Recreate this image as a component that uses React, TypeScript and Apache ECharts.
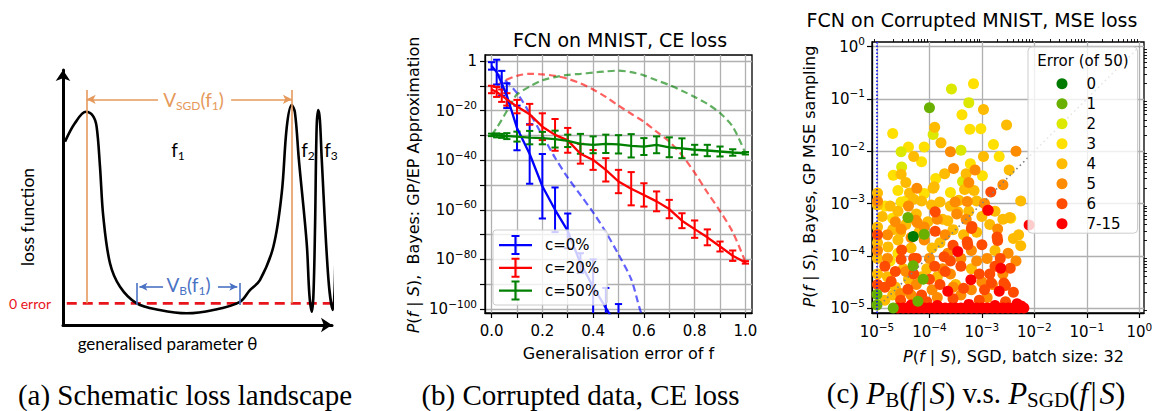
import React, { useEffect, useRef } from "react";
import * as echarts from "echarts";

// ---------------- (a) schematic loss landscape (arbitrary units, 0-100) ----------------
const landscapeTheta = [0.74, 4.46, 8.55, 11.15, 12.5, 13.75, 14.98, 17.47, 21.19, 27.4, 35.9, 46.0, 55.9, 65.8, 69.5, 73.2, 78.2, 81.3, 83.2, 85.0, 86.2, 87.7, 90.6, 91.6, 92.5, 93.1, 93.7, 94.3, 94.9, 95.5, 96.2, 98.6, 100.3, 101.1, 101.5, 102.0];
const landscapeLoss = [71.9, 79.2, 83.6, 82.0, 77.8, 62.1, 42.5, 24.2, 15.0, 8.5, 5.9, 4.6, 5.9, 9.1, 13.7, 17.6, 30.7, 51.6, 77.8, 86.3, 83.5, 64.7, 32.0, 11.8, 5.2, 11.8, 38.5, 77.8, 84.3, 80.4, 64.7, 18.9, 5.9, 17.6, 51.6, 84.6];
const zeroErrorLevel = 8.5;
const zeroErrorSpan = [1.4, 105.5];
const vSgdEdges = [8.8, 85.1];
const vSgdLineTop = 92.2;
const vSgdArrowLevel = 88.5;
const vSgdLabelGap = [35.3, 62.5];
const vBEdges = [27.4, 65.8];
const vBTickRange = [7.8, 16.5];
const vBArrowLevel = 15.0;
const vBLabelGap = [37.2, 57.6];

// ---------------- (b) FCN on MNIST, CE loss (log10 P) ----------------
const genError = [0, 0.02, 0.04, 0.06, 0.1, 0.15, 0.2, 0.25, 0.3, 0.35, 0.4, 0.45, 0.5, 0.55, 0.6, 0.65, 0.7, 0.75, 0.8, 0.85, 0.9, 0.95, 1.0];
const c0Log10P = [-2, -4.5, -9, -14, -27, -37.5, -50.5, -60, -68.5, -81.5, -91, -99.5, -108];
const c0Spread = [1.5, 5, 5, 5, 9, 12, 13, 9, 7, 4, 11, 8, 10];
const c20Log10P = [-11.5, -12.5, -14, -15.5, -18.4, -21.5, -26.5, -29.8, -32, -37.4, -39.9, -43.9, -48.6, -51.5, -54, -56.6, -59.7, -64.4, -67.8, -71.1, -74.8, -78.5, -81.2];
const c20Spread = [1.5, 2, 2.5, 2.5, 2.7, 4.2, 5.4, 6.4, 5, 4, 4, 4.7, 4.7, 6.7, 4.7, 4, 3.7, 3, 3.5, 3.2, 2, 2.1, 0.5];
const c50Log10P = [-29.8, -30, -30.2, -30.3, -30.5, -30.9, -31.1, -31.5, -32.2, -33.4, -33.8, -33.4, -33.6, -34.2, -34.5, -33.8, -34.8, -35.2, -35.8, -36.1, -36.5, -36.9, -37.2];
const c50Spread = [0.5, 0.8, 0.8, 1.2, 2, 2.7, 2.5, 3.4, 2.5, 4, 3.4, 3.7, 3.7, 4.7, 3.4, 3.4, 4, 4, 2, 2.3, 2, 1.3, 0.5];
const c0ApproxErr = [0.02, 0.05, 0.1, 0.15, 0.2, 0.25, 0.3, 0.35, 0.4, 0.45, 0.5, 0.55, 0.585, 0.6];
const c0ApproxLog10P = [-5, -7.5, -13, -21, -30, -39, -47, -54, -61, -69, -78, -88, -100.3, -104];
const c20ApproxErr = [0.02, 0.05, 0.1, 0.15, 0.2, 0.25, 0.3, 0.35, 0.4, 0.45, 0.5, 0.55, 0.6, 0.65, 0.7, 0.75, 0.8, 0.85, 0.9, 0.95, 1.0];
const c20ApproxLog10P = [-10, -8, -6, -5.2, -5.4, -6, -7.2, -9, -11.5, -14.5, -18, -21.3, -24.5, -28.5, -32.5, -38, -45, -53, -60.5, -69, -81];
const c50ApproxErr = [0, 0.02, 0.05, 0.085, 0.1, 0.15, 0.2, 0.25, 0.3, 0.35, 0.4, 0.45, 0.5, 0.55, 0.6, 0.65, 0.7, 0.75, 0.8, 0.85, 0.9, 0.95, 1.0];
const c50ApproxLog10P = [-29.8, -27, -22, -15.7, -13.5, -10.3, -7.8, -6.5, -5.6, -5.2, -4.7, -4.2, -3.9, -4.5, -5.8, -7.8, -9.7, -12, -14.5, -17.3, -21, -26.5, -37.2];
const bXTicks = [0, 0.1, 0.2, 0.3, 0.4, 0.5, 0.6, 0.7, 0.8, 0.9, 1.0];
const bXLabels = [0, 0.2, 0.4, 0.6, 0.8, 1.0];
const bYTicks = [0, -10, -20, -30, -40, -50, -60, -70, -80, -90, -100];
const bYLabels = [0, -20, -40, -60, -80, -100];
const bLegendNames = ["c=0%", "c=20%", "c=50%"];

// ---------------- (c) P_B vs P_SGD, [log10 P_SGD, log10 P_B] ----------------
const errorClasses = ["0", "1", "2", "3", "4", "5", "6", "7-15"];
const class0 = [[-4.31, -3.63]];
const class1 = [[-4.0, -1.17], [-4.41, -3.27], [-4.1, -3.59], [-4.31, -4.19], [-4.12, -4.45], [-4.22, -4.87], [-4.69, -5.0], [-5.0, -4.74], [-5.0, -4.94]];
const class2 = [[-3.58, -0.81], [-3.25, -1.07], [-3.93, -1.68], [-4.54, -2.01], [-3.4, -1.98], [-4.53, -2.3], [-3.37, -2.58]];
const class3 = [[-3.16, -0.71], [-3.38, -1.3], [-4.7, -1.66], [-3.23, -1.58], [-3.02, -1.57], [-2.78, -1.87], [-4.4, -1.92], [-4.1, -1.92], [-4.15, -2.2], [-2.67, -2.1], [-3.22, -2.24], [-4.69, -2.46], [-3.88, -2.52], [-2.99, -2.47], [-4.1, -2.81], [-3.6, -2.79], [-4.54, -2.97], [-4.7, -3.28], [-2.45, -3.28], [-4.75, -4.1], [-4.6, -3.95], [-4.45, -2.95], [-4.85, -3.05], [-4.6, -2.75]];
const class4 = [[-2.97, -1.2], [-3.9, -1.54], [-2.53, -1.5], [-3.78, -1.84], [-4.3, -2.1], [-2.97, -2.1], [-4.54, -2.44], [-3.71, -2.43], [-3.3, -2.43], [-2.48, -2.36], [-3.91, -2.68], [-4.38, -2.8], [-4.99, -2.8], [-4.3, -2.92], [-3.44, -2.94], [-3.1, -2.95], [-2.26, -2.95], [-3.96, -3.03], [-4.99, -3.03], [-3.46, -3.16], [-4.03, -3.35], [-4.7, -3.5], [-3.65, -3.33], [-3.93, -2.71], [-3.33, -2.73], [-3.15, -2.75], [-3.8, -2.97], [-2.47, -3.27], [-2.4, -3.67], [-2.26, -3.81], [-4.79, -3.83], [-4.75, -3.05], [-4.6, -3.15], [-4.45, -3.4], [-4.2, -3.55], [-4.6, -3.7], [-4.35, -3.85], [-4.5, -4.25], [-4.8, -4.4], [-3.75, -3.3], [-3.55, -3.5], [-3.35, -3.6], [-3.1, -3.55], [-2.85, -3.4], [-2.6, -3.3], [-3.8, -3.75], [-3.2, -4.25], [-2.75, -3.9], [-4.05, -4.25], [-3.85, -4.4], [-4.65, -4.6], [-4.85, -4.85], [-3.0, -3.25], [-2.3, -3.6], [-3.95, -3.85], [-4.99, -3.45], [-4.99, -3.75], [-4.99, -4.05], [-4.99, -4.35], [-4.45, -2.6], [-4.15, -2.95], [-3.6, -3.05], [-4.9, -3.25], [-4.55, -3.55], [-4.25, -3.2], [-3.25, -3.15], [-2.75, -3.15], [-4.4, -4.45], [-4.15, -4.4], [-3.5, -4.55], [-4.7, -4.75]];
const class5 = [[-3.6, -2.01], [-2.35, -2.0], [-3.54, -2.33], [-3.13, -2.36], [-3.25, -2.6], [-2.6, -2.64], [-4.24, -2.71], [-3.51, -2.97], [-3.28, -2.96], [-2.95, -3.0], [-4.26, -3.32], [-2.7, -3.49], [-4.54, -3.49], [-3.48, -3.2], [-4.23, -3.37], [-4.1, -3.7], [-3.65, -3.95], [-3.4, -4.05], [-3.1, -4.1], [-2.9, -4.05], [-4.45, -4.3], [-3.6, -4.35], [-3.0, -4.5], [-4.25, -4.55], [-3.95, -4.65], [-3.4, -4.75], [-2.9, -4.8], [-4.55, -4.72], [-3.7, -3.6], [-3.2, -3.9], [-2.5, -3.95], [-2.35, -4.1], [-4.8, -3.6], [-3.3, -3.3], [-4.4, -3.05], [-2.6, -4.35], [-4.99, -2.95], [-4.99, -3.9], [-4.65, -3.35], [-4.1, -3.45], [-3.85, -3.3], [-4.35, -3.65], [-4.0, -4.05], [-3.75, -4.25], [-3.55, -4.6], [-3.2, -4.65], [-2.8, -4.55], [-4.8, -4.05], [-4.35, -4.75], [-3.85, -4.8]];
const class6 = [[-2.83, -2.78], [-3.89, -3.16], [-2.89, -3.13], [-3.2, -3.48], [-3.89, -3.53], [-2.7, -3.71], [-3.0, -3.79], [-3.27, -3.79], [-3.72, -4.02], [-4.54, -4.07], [-4.3, -4.05], [-2.46, -4.24], [-2.55, -4.57], [-3.19, -3.44], [-2.71, -3.64], [-4.53, -3.89], [-4.73, -4.49], [-4.41, -4.64], [-2.85, -4.35], [-2.82, -4.52], [-2.58, -4.52], [-3.28, -3.73], [-4.55, -4.85], [-4.05, -4.88], [-3.55, -4.82], [-3.05, -4.85], [-2.55, -4.88], [-3.8, -4.55], [-3.35, -4.62], [-2.95, -4.65], [-4.15, -4.75], [-3.4, -4.2], [-3.7, -4.3], [-4.85, -4.2], [-4.99, -3.6], [-4.99, -4.55], [-2.4, -4.7], [-2.75, -4.2], [-3.55, -3.8], [-4.25, -4.05], [-4.65, -4.3], [-4.0, -4.45], [-3.6, -4.1], [-3.05, -4.35], [-2.65, -4.05], [-4.3, -4.35], [-4.85, -4.6], [-3.9, -4.2]];
const class7 = [[-2.1, -3.41], [-2.88, -3.13], [-3.46, -3.92], [-2.64, -4.24], [-3.21, -4.46], [-3.65, -4.68], [-2.67, -4.68], [-2.33, -4.92], [-4.6, -5.0], [-4.5, -5.0], [-4.4, -5.0], [-4.3, -5.0], [-4.2, -5.0], [-4.1, -5.0], [-4.0, -5.0], [-3.9, -5.0], [-3.8, -5.0], [-3.7, -5.0], [-3.6, -5.0], [-3.5, -5.0], [-3.4, -5.0], [-3.3, -5.0], [-3.2, -5.0], [-3.1, -5.0], [-3.0, -5.0], [-2.9, -5.0], [-2.8, -5.0], [-2.7, -5.0], [-2.6, -5.0], [-2.5, -5.0], [-2.4, -5.0], [-2.3, -5.0], [-2.2, -5.0], [-4.35, -4.94], [-3.85, -4.95], [-3.25, -4.93], [-2.75, -4.95], [-2.25, -4.96]];
const cDecades = [-5, -4, -3, -2, -1, 0];
const cRange = [-5.095, 0.09];

// ---------------- styles ----------------
const SANS = '"DejaVu Sans", sans-serif';
const SERIF = '"Liberation Serif", "DejaVu Serif", serif';
const CAL = 'Lato, "Open Sans", sans-serif';
const BLUE = "#0000ff";
const RED = "#ff0000";
const GREEN = "#008000";
const ORANGE_A = "#e5995a";
const BLUE_A = "#4a72c4";
const classColors = ["#007a00", "#6ab000", "#dce800", "#ffe000", "#ffbb00", "#ff8c00", "#ff4c00", "#ff0000"];
const GRIDC = "#b0b0b0";
const EB_ICON = "path://M0,9L33,9L33,11.2L0,11.2Z M15.4,1L17.6,1L17.6,19L15.4,19Z M12.5,0L20.5,0L20.5,2L12.5,2Z M12.5,18L20.5,18L20.5,20L12.5,20Z";

function minorLogTicks(): number[] {
  const out: number[] = [];
  for (let n = -6; n <= 0; n++) {
    for (let k = 2; k <= 9; k++) {
      const v = n + Math.log10(k);
      if (v > cRange[0] && v < cRange[1]) out.push(v);
    }
  }
  return out;
}

function supLabel(v: number) {
  if (Math.abs(v) < 1e-9) return "{b|10}{s|0}";
  return "{b|10}{s|\u2212" + Math.round(Math.abs(v)) + "}";
}

const richTick = {
  b: { fontSize: 15, lineHeight: 22, fontFamily: SANS, color: "#000" },
  s: { fontSize: 10.5, lineHeight: 12, verticalAlign: "top", fontFamily: SANS, color: "#000" },
};

function errorbarSeries(name: string, xs: number[], ys: number[], es: number[], color: string) {
  return {
    type: "custom",
    name,
    xAxisIndex: 1,
    yAxisIndex: 1,
    clip: true,
    z: 3,
    silent: true,
    itemStyle: { color },
    encode: { x: 0, y: [1, 2] },
    data: ys.map((y, i) => [xs[i], y - es[i], y + es[i]]),
    renderItem: (params: any, api: any) => {
      const x = api.value(0);
      const lo = api.coord([x, api.value(1)]);
      const hi = api.coord([x, api.value(2)]);
      const cap = 3.6;
      const style = { stroke: color, lineWidth: 2, fill: null };
      return {
        type: "group",
        children: [
          { type: "line", shape: { x1: lo[0], y1: lo[1], x2: hi[0], y2: hi[1] }, style },
          { type: "line", shape: { x1: lo[0] - cap, y1: lo[1], x2: lo[0] + cap, y2: lo[1] }, style },
          { type: "line", shape: { x1: hi[0] - cap, y1: hi[1], x2: hi[0] + cap, y2: hi[1] }, style },
        ],
      };
    },
  };
}

function lineB(xs: number[], ys: number[], color: string, dashed: boolean) {
  return {
    type: "line",
    xAxisIndex: 1,
    yAxisIndex: 1,
    data: ys.map((y, i) => [xs[i], y]),
    symbol: "none",
    silent: true,
    clip: true,
    smooth: dashed ? 0.3 : false,
    z: dashed ? 2 : 3,
    lineStyle: dashed
      ? { color, width: 2.2, type: [7, 4], opacity: 0.62 }
      : { color, width: 2.3 },
  };
}

function txt(x: number, y: number, text: string, fontSize: number, fontFamily: string, extra: any = {}) {
  return {
    type: "text",
    x,
    y,
    z: 100,
    zlevel: 0,
    silent: true,
    rotation: extra.rotation || 0,
    style: {
      text,
      fontSize,
      fontFamily,
      fill: extra.fill || "#000",
      align: "center",
      verticalAlign: "middle",
      textAlign: "center",
      textVerticalAlign: "middle",
      rich: extra.rich,
      lineHeight: extra.lineHeight,
    },
  };
}

function buildOption() {
  const minor = minorLogTicks();
  const axisTitleRich = { i: { fontSize: 16, fontFamily: SANS, fontStyle: "italic", fill: "#000", lineHeight: 19 } };

  const calRich = (color: string) => ({
    m: { fontSize: 19, fontFamily: CAL, fill: color, lineHeight: 24 },
    d: { fontSize: 12, fontFamily: CAL, fill: color, verticalAlign: "bottom", lineHeight: 14 },
  });

  const captionRich = {
    i: { fontSize: 31, fontFamily: SERIF, fontStyle: "italic", fill: "#000", lineHeight: 34 },
    m: { fontSize: 31, fontFamily: SERIF, fill: "#000", lineHeight: 34 },
    n: { fontSize: 29, fontFamily: SERIF, fill: "#000", lineHeight: 34 },
    d: { fontSize: 21, fontFamily: SERIF, fill: "#000", verticalAlign: "bottom", lineHeight: 22 },
  };
  const fs = "{m|(}{i|f}{m|\u200a|\u200a}{i|S}{m|)}";

  const graphics: any[] = [
    // (a) texts
    txt(30, 303.5, "0 error", 14, CAL, { fill: "#e8141c" }),
    txt(27, 217, "loss function", 17.5, CAL, { rotation: Math.PI / 2 }),
    txt(167.5, 343, "generalised parameter \u03b8", 17, CAL),
    txt(193.5, 99.5, "{m|V}{d|SGD}{m|(f}{d|1}{m|)}", 19, CAL, { rich: calRich(ORANGE_A) }),
    txt(188.5, 284, "{m|V}{d|B}{m|(f}{d|1}{m|)}", 19, CAL, { rich: calRich(BLUE_A) }),
    txt(178, 149, "{m|f}{d|1}", 19, CAL, { rich: calRich("#000") }),
    txt(308, 149, "{m|f}{d|2}", 19, CAL, { rich: calRich("#000") }),
    txt(331, 149, "{m|f}{d|3}", 19, CAL, { rich: calRich("#000") }),
    // (b) texts
    txt(620, 39.5, "FCN on MNIST, CE loss", 19, SANS),
    txt(618.5, 353.5, "Generalisation error of f", 16, SANS),
    txt(413.5, 185, "{i|P}({i|f} | {i|S}),  Bayes: GP/EP Approximation", 16, SANS, { rotation: Math.PI / 2, rich: axisTitleRich, lineHeight: 19 }),
    // (c) texts
    txt(972, 20, "FCN on Corrupted MNIST, MSE loss", 19, SANS),
    txt(1013.5, 356, "{i|P}({i|f} | {i|S}), SGD, batch size: 32", 16, SANS, { rich: axisTitleRich, lineHeight: 19 }),
    txt(809.5, 176.5, "{i|P}({i|f} | {i|S}), Bayes, GP MSE sampling", 16, SANS, { rotation: Math.PI / 2, rich: axisTitleRich, lineHeight: 19 }),
    txt(1083, 60.5, "Error (of 50)", 15, SANS),
    // captions
    txt(185, 395, "(a) Schematic loss landscape", 29, SERIF, { lineHeight: 26 }),
    txt(580.5, 395, "(b) Corrupted data, CE loss", 29, SERIF, { lineHeight: 26 }),
    txt(976, 393, "{n|(c) }{i|P}{d|B}" + fs + "{n| v.s. }{i|P}{d|SGD}" + fs, 29, SERIF, { rich: captionRich, lineHeight: 34 }),
  ];

  const tickStyle = { color: "#000", width: 1.2 };
  const axisLineBlack = { show: true, onZero: false, lineStyle: { color: "#000", width: 1.3 } };

  const xAxis: any[] = [
    {
      gridIndex: 0, type: "value", min: 0, max: 100,
      axisLine: { show: true, onZero: false, symbol: ["none", "arrow"], symbolSize: [11, 11], lineStyle: { color: "#000", width: 3 } },
      axisTick: { show: false }, axisLabel: { show: false }, splitLine: { show: false },
    },
    {
      gridIndex: 1, type: "value", min: -0.026, max: 1.026,
      axisLine: axisLineBlack,
      axisTick: { show: true, length: 5, lineStyle: tickStyle, customValues: bXTicks },
      axisLabel: { show: true, customValues: bXLabels, formatter: (v: number) => v.toFixed(1), fontSize: 15, lineHeight: 18, fontFamily: SANS, color: "#000", margin: 9 },
      splitLine: { show: true, lineStyle: { color: GRIDC, width: 1.3 } },
    },
    {
      gridIndex: 2, type: "value", min: cRange[0], max: cRange[1],
      axisLine: axisLineBlack,
      axisTick: { show: true, length: 5, lineStyle: tickStyle, customValues: cDecades },
      axisLabel: { show: true, customValues: cDecades, formatter: supLabel, rich: richTick, margin: 8 },
      splitLine: { show: true, lineStyle: { color: GRIDC, width: 1.3 } },
    },
    {
      gridIndex: 2, type: "value", min: cRange[0], max: cRange[1],
      axisLine: { show: false, onZero: false },
      axisTick: { show: true, length: 3, lineStyle: { color: "#000", width: 0.9 }, customValues: minor },
      axisLabel: { show: false }, splitLine: { show: false },
    },
  ];

  const yAxis: any[] = [
    {
      gridIndex: 0, type: "value", min: 0, max: 100,
      axisLine: { show: true, onZero: false, symbol: ["none", "arrow"], symbolSize: [11, 11], lineStyle: { color: "#000", width: 3 } },
      axisTick: { show: false }, axisLabel: { show: false }, splitLine: { show: false },
    },
    {
      gridIndex: 1, type: "value", min: -101.6, max: 2.4,
      axisLine: axisLineBlack,
      axisTick: { show: true, length: 5, lineStyle: tickStyle, customValues: bYTicks },
      axisLabel: { show: true, customValues: bYLabels, formatter: (v: number) => (Math.abs(v) < 1e-9 ? "{b|1}" : supLabel(v)), rich: richTick, margin: 8 },
      splitLine: { show: true, lineStyle: { color: GRIDC, width: 1.3 } },
    },
    {
      gridIndex: 2, type: "value", min: cRange[0], max: cRange[1],
      axisLine: axisLineBlack,
      axisTick: { show: true, length: 5, lineStyle: tickStyle, customValues: cDecades },
      axisLabel: { show: true, customValues: cDecades, formatter: supLabel, rich: richTick, margin: 7 },
      splitLine: { show: true, lineStyle: { color: GRIDC, width: 1.3 } },
    },
    {
      gridIndex: 2, type: "value", min: cRange[0], max: cRange[1],
      axisLine: { show: false, onZero: false },
      axisTick: { show: true, length: 3, lineStyle: { color: "#000", width: 0.9 }, customValues: minor },
      axisLabel: { show: false }, splitLine: { show: false },
    },
  ];

  const series: any[] = [];

  // (a)
  series.push({
    type: "line", xAxisIndex: 0, yAxisIndex: 0, silent: true, clip: false, symbol: "none", smooth: 0.35,
    data: landscapeTheta.map((t, i) => [t, landscapeLoss[i]]),
    lineStyle: { color: "#000", width: 2.6 }, z: 4,
  });
  series.push({
    type: "line", xAxisIndex: 0, yAxisIndex: 0, silent: true, clip: false, symbol: "none",
    data: [[zeroErrorSpan[0], zeroErrorLevel], [zeroErrorSpan[1], zeroErrorLevel]],
    lineStyle: { color: "#e8141c", width: 2.6, type: [10, 6] }, z: 3,
  });
  series.push({
    type: "line", xAxisIndex: 0, yAxisIndex: 0, silent: true, clip: false, symbol: "none", data: [],
    markLine: {
      silent: true, animation: false, label: { show: false }, emphasis: { disabled: true },
      lineStyle: { color: ORANGE_A, width: 1.6, type: "solid" },
      data: [
        [{ coord: [vSgdEdges[0], zeroErrorLevel], symbol: "none" }, { coord: [vSgdEdges[0], vSgdLineTop], symbol: "none" }],
        [{ coord: [vSgdEdges[1], zeroErrorLevel], symbol: "none" }, { coord: [vSgdEdges[1], vSgdLineTop], symbol: "none" }],
        [{ coord: [vSgdLabelGap[0], vSgdArrowLevel], symbol: "none" }, { coord: [vSgdEdges[0], vSgdArrowLevel], symbol: "arrow", symbolSize: [7, 9] }],
        [{ coord: [vSgdLabelGap[1], vSgdArrowLevel], symbol: "none" }, { coord: [vSgdEdges[1], vSgdArrowLevel], symbol: "arrow", symbolSize: [7, 9] }],
      ],
    },
  });
  series.push({
    type: "line", xAxisIndex: 0, yAxisIndex: 0, silent: true, clip: false, symbol: "none", data: [],
    markLine: {
      silent: true, animation: false, label: { show: false }, emphasis: { disabled: true },
      lineStyle: { color: BLUE_A, width: 1.6, type: "solid" },
      data: [
        [{ coord: [vBEdges[0], vBTickRange[0]], symbol: "none" }, { coord: [vBEdges[0], vBTickRange[1]], symbol: "none" }],
        [{ coord: [vBEdges[1], vBTickRange[0]], symbol: "none" }, { coord: [vBEdges[1], vBTickRange[1]], symbol: "none" }],
        [{ coord: [vBLabelGap[0], vBArrowLevel], symbol: "none" }, { coord: [vBEdges[0] + 1, vBArrowLevel], symbol: "arrow", symbolSize: [6, 8] }],
        [{ coord: [vBLabelGap[1], vBArrowLevel], symbol: "none" }, { coord: [vBEdges[1] - 1, vBArrowLevel], symbol: "arrow", symbolSize: [6, 8] }],
      ],
    },
  });

  // (b)
  series.push(lineB(c0ApproxErr, c0ApproxLog10P, BLUE, true));
  series.push(lineB(c20ApproxErr, c20ApproxLog10P, RED, true));
  series.push(lineB(c50ApproxErr, c50ApproxLog10P, GREEN, true));
  series.push(lineB(genError.slice(0, c0Log10P.length), c0Log10P, BLUE, false));
  series.push(lineB(genError, c20Log10P, RED, false));
  series.push(lineB(genError, c50Log10P, GREEN, false));
  series.push(errorbarSeries(bLegendNames[0], genError.slice(0, c0Log10P.length), c0Log10P, c0Spread, BLUE));
  series.push(errorbarSeries(bLegendNames[1], genError, c20Log10P, c20Spread, RED));
  series.push(errorbarSeries(bLegendNames[2], genError, c50Log10P, c50Spread, GREEN));

  // (c)
  const classData = [class0, class1, class2, class3, class4, class5, class6, class7];
  const drawOrder = [3, 2, 4, 5, 6, 7, 1, 0];
  drawOrder.forEach((ci) => {
    series.push({
      type: "scatter", name: errorClasses[ci], xAxisIndex: 2, yAxisIndex: 2, silent: true,
      symbol: "circle", symbolSize: 11, data: classData[ci],
      itemStyle: { color: classColors[ci], opacity: 1 }, z: 2,
    });
  });
  series.push({
    type: "line", xAxisIndex: 2, yAxisIndex: 2, silent: true, symbol: "none", z: 5,
    data: [[cDecades[0], cDecades[0]], [cDecades[5], cDecades[5]]],
    lineStyle: { color: "#808080", width: 1.6, type: [1.6, 3.2] },
  });
  series.push({
    type: "line", xAxisIndex: 2, yAxisIndex: 2, silent: true, symbol: "none", z: 5,
    data: [[cDecades[0], cRange[0]], [cDecades[0], cRange[1]]],
    lineStyle: { color: BLUE, width: 1.5, type: [1.5, 2] },
  });

  const legend: any[] = [
    {
      orient: "vertical", left: 493, top: 230, selectedMode: false,
      data: bLegendNames.map((n) => ({ name: n, icon: EB_ICON })),
      itemWidth: 33, itemHeight: 20, itemGap: 2.8,
      padding: [5, 8, 4.4, 6],
      textStyle: { fontSize: 15, lineHeight: 20, fontFamily: SANS, color: "#000", padding: [0, 0, 0, 8] },
      backgroundColor: "rgba(255,255,255,0.8)", borderColor: "#cccccc", borderWidth: 1, borderRadius: 3,
      z: 20,
    },
    {
      orient: "vertical", left: 1028, top: 47, selectedMode: false,
      data: errorClasses.map((n) => ({ name: n, icon: "circle" })),
      itemWidth: 11, itemHeight: 11, itemGap: 5.0,
      padding: [29.2, 17, 2, 28.5],
      textStyle: { fontSize: 15, lineHeight: 11, fontFamily: SANS, color: "#000", padding: [0, 0, 0, 14] },
      backgroundColor: "rgba(255,255,255,0.8)", borderColor: "#cccccc", borderWidth: 1, borderRadius: 4,
      z: 20,
    },
  ];

  return {
    animation: false,
    backgroundColor: "#ffffff",
    grid: [
      { left: 63, top: 70, width: 269, height: 255, show: false },
      { left: 485, top: 55, width: 267, height: 258, show: true, borderColor: "#000", borderWidth: 1.3, backgroundColor: "transparent" },
      { left: 872, top: 42, width: 272, height: 271, show: true, borderColor: "#000", borderWidth: 1.3, backgroundColor: "transparent" },
    ],
    xAxis,
    yAxis,
    legend,
    series,
    graphic: { elements: graphics },
  };
}

export default function App() {
  const ref = useRef<HTMLDivElement>(null);
  useEffect(() => {
    if (!ref.current) return;
    const chart = echarts.init(ref.current, null, { renderer: "svg", width: 1156, height: 411 });
    chart.setOption(buildOption() as any);
    return () => chart.dispose();
  }, []);
  return (
    <div
      ref={ref}
      style={{ position: "fixed", left: 0, top: 0, width: 1156, height: 411, background: "#fff" }}
    />
  );
}
